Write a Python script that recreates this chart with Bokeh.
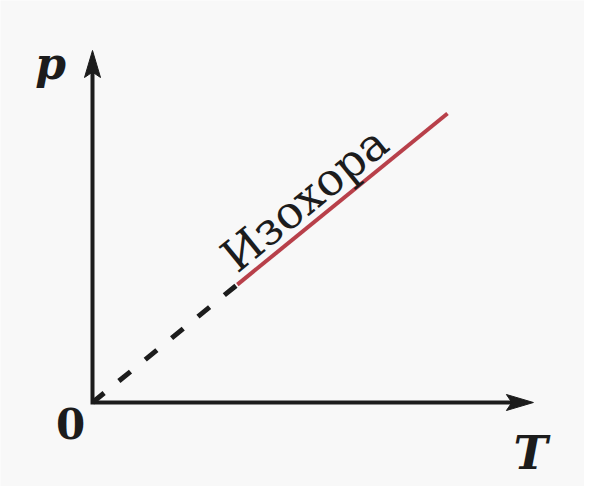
import math
from bokeh.plotting import figure
from bokeh.models import Range1d
from bokeh.core.properties import value
from bokeh.embed import file_html
from bokeh.resources import INLINE

# ---- data (arbitrary units: T horizontal, p vertical) ----
axis_T_max = 12.42          # tip of the T axis arrow
axis_p_max = 12.18          # tip of the p axis arrow
isochore_T = [4.08, 10.0]   # measured (solid red) part
isochore_p = [4.08, 10.0]
extrap_T = [0.0, 4.08]      # extrapolated (dashed) part towards 0
extrap_p = [0.0, 4.08]
label_text = ["Изохора"]
label_T = [3.80]
label_p = [4.86]
axis_labels = ["p", "T", "0"]
axis_label_T = [-1.18, 12.34, -0.62]
axis_label_p = [11.72, -1.76, -0.73]

# ---- scales (screen px per data unit) ----
W, H = 584, 486
px_T, px_p = 35.5, 28.9
origin_px_x, origin_px_y = 92, 402   # origin inside the frame
x0 = -origin_px_x / px_T
y0 = -(H - origin_px_y) / px_p

p = figure(width=W, height=H, x_range=Range1d(x0, x0 + W / px_T),
           y_range=Range1d(y0, y0 + H / px_p),
           x_axis_type=None, y_axis_type=None, output_backend="svg",
           toolbar_location=None, min_border=0)
p.grid.visible = False
p.outline_line_color = None
p.background_fill_color = "#f8f8f8"
p.border_fill_color = "#f8f8f8"

ink = "#1c1c1c"
head_len, head_w = 27, 16
# axes as one polyline (corner at origin)
p.line([0, 0, axis_T_max - head_len * 0.7 / px_T],
       [axis_p_max - head_len * 0.7 / px_p, 0, 0],
       line_color=ink, line_width=4, line_join="miter")
# arrow heads
p.patch([0, -head_w / 2 / px_T, 0, head_w / 2 / px_T],
        [axis_p_max, axis_p_max - head_len / px_p,
         axis_p_max - head_len * 0.8 / px_p, axis_p_max - head_len / px_p],
        fill_color=ink, line_color=ink, line_width=1)
p.patch([axis_T_max, axis_T_max - head_len / px_T,
         axis_T_max - head_len * 0.8 / px_T, axis_T_max - head_len / px_T],
        [0, head_w / 2 / px_p, 0, -head_w / 2 / px_p],
        fill_color=ink, line_color=ink, line_width=1)

# dashed extrapolation
p.line(extrap_T, extrap_p, line_color=ink, line_width=5, line_dash="15 19",
       line_cap="butt")
# red isochore
p.line(isochore_T, isochore_p, line_color="#b8404a", line_width=4)

angle = math.atan2((isochore_p[1] - isochore_p[0]) * px_p,
                   (isochore_T[1] - isochore_T[0]) * px_T)
p.text(label_T, label_p, text=label_text, angle=angle,
       text_font=value("DejaVu Serif"), text_font_size="45px",
       text_color=ink, text_align="left", text_baseline="alphabetic")

p.text(axis_label_T[:1], axis_label_p[:1], text=axis_labels[:1],
       text_font=value("DejaVu Serif"), text_font_size="44px",
       text_font_style="bold italic", text_color=ink,
       text_align="center", text_baseline="middle")
p.text(axis_label_T[1:2], axis_label_p[1:2], text=axis_labels[1:2],
       text_font=value("DejaVu Serif"), text_font_size="46px",
       text_font_style="bold italic", text_color=ink,
       text_align="center", text_baseline="middle")
p.text(axis_label_T[2:], axis_label_p[2:], text=axis_labels[2:],
       text_font=value("DejaVu Serif"), text_font_size="42px",
       text_font_style="bold", text_color=ink,
       text_align="center", text_baseline="middle")

open("out.html", "w").write(file_html(p, INLINE))
